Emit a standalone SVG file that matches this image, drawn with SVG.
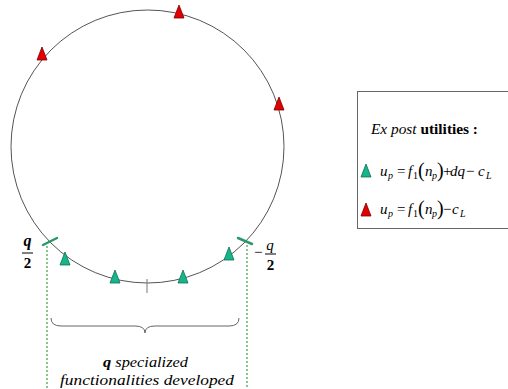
<svg xmlns="http://www.w3.org/2000/svg" width="508" height="389" viewBox="0 0 508 389">
<style>
.red{fill:#e30000;stroke:#7a0000;stroke-width:0.8}
.grn{fill:#17b58a;stroke:#0b6e52;stroke-width:0.8}
.gtick{stroke:#2a9a68;stroke-width:2.5;stroke-linecap:round}
.dot{stroke:#55b055;stroke-width:1.4;stroke-dasharray:2 2;fill:none}
text{font-family:"Liberation Serif","Times New Roman",serif;fill:#000}
.i{font-style:italic}
.b{font-weight:bold}
.s{font-size:10px}
.p{font-size:20px}
</style>
<defs>
<path id="tri" d="M0,-7 L5,6 L-5,6 Z"/>
</defs>
<rect x="0" y="0" width="508" height="389" fill="#fff"/>
<g id="ring">
<circle cx="147.5" cy="146.5" r="136.5" fill="none" stroke="#555" stroke-width="1"/>
<line x1="147" y1="279" x2="147" y2="293" stroke="#777" stroke-width="1"/>
</g>
<g id="connectors">
<line class="dot" x1="47" y1="246" x2="47" y2="389"/>
<line class="dot" x1="247" y1="245" x2="247" y2="389"/>
<path d="M51,318 Q51,326 61,326 L135,326 Q145,326 145,333 Q145,326 155,326 L229,326 Q239,326 239,318" fill="none" stroke="#666" stroke-width="1"/>
</g>
<g id="red-agents">
<use href="#tri" class="red" x="179" y="12"/>
<use href="#tri" class="red" x="42" y="54"/>
<use href="#tri" class="red" x="279" y="104"/>
</g>
<g id="green-agents">
<use href="#tri" class="grn" x="65" y="259"/>
<use href="#tri" class="grn" x="115" y="277"/>
<use href="#tri" class="grn" x="183" y="277"/>
<use href="#tri" class="grn" x="229" y="254"/>
</g>
<g id="bound-left">
<line class="gtick" x1="43" y1="245" x2="57" y2="238"/>
<text class="b i" x="27.5" y="246" font-size="16" text-anchor="middle">q</text>
<line x1="22" y1="253" x2="33" y2="253" stroke="#000" stroke-width="1"/>
<text class="b" x="27.5" y="268" font-size="15" text-anchor="middle">2</text>
</g>
<g id="bound-right">
<line class="gtick" x1="238" y1="238" x2="252" y2="244"/>
<text x="254" y="257" font-size="15">−</text>
<text class="i" x="270" y="250" font-size="15" text-anchor="middle">q</text>
<line x1="265" y1="254" x2="276" y2="254" stroke="#000" stroke-width="1"/>
<text class="b" x="270.5" y="270" font-size="15" text-anchor="middle">2</text>
</g>
<g id="caption">
<text class="i" x="103" y="367" font-size="15" textLength="85" lengthAdjust="spacingAndGlyphs"><tspan class="b">q</tspan> specialized</text>
<text class="i" x="60" y="385" font-size="15" textLength="174" lengthAdjust="spacingAndGlyphs">functionalities developed</text>
</g>
<g id="legend">
<rect x="357.5" y="91.5" width="155" height="137" fill="#fff" stroke="#666" stroke-width="1"/>
<text x="371" y="134" font-size="15.5" textLength="107" lengthAdjust="spacingAndGlyphs"><tspan class="i">Ex post</tspan> <tspan class="b">utilities :</tspan></text>
<use href="#tri" class="grn" x="366" y="171"/>
<text y="176" font-size="15"><tspan class="i" x="380">u</tspan><tspan class="i s" x="388" y="179">p</tspan><tspan x="397" y="176">=</tspan><tspan class="i" x="408">f</tspan><tspan class="s" x="413" y="179">1</tspan><tspan class="p" x="418" y="177">(</tspan><tspan class="i" x="425" y="176">n</tspan><tspan class="i s" x="432" y="179">p</tspan><tspan class="p" x="437" y="177">)</tspan><tspan x="443" y="176">+</tspan><tspan class="i" x="450">dq</tspan><tspan x="466">−</tspan><tspan class="i" x="478">c</tspan><tspan class="i s" x="486" y="179">L</tspan></text>
<use href="#tri" class="red" x="366" y="210"/>
<text y="214" font-size="15"><tspan class="i" x="380">u</tspan><tspan class="i s" x="388" y="217">p</tspan><tspan x="397" y="214">=</tspan><tspan class="i" x="408">f</tspan><tspan class="s" x="413" y="217">1</tspan><tspan class="p" x="418" y="215">(</tspan><tspan class="i" x="425" y="214">n</tspan><tspan class="i s" x="432" y="217">p</tspan><tspan class="p" x="437" y="215">)</tspan><tspan x="443" y="214">−</tspan><tspan class="i" x="452">c</tspan><tspan class="i s" x="460" y="217">L</tspan></text>
</g>
</svg>
